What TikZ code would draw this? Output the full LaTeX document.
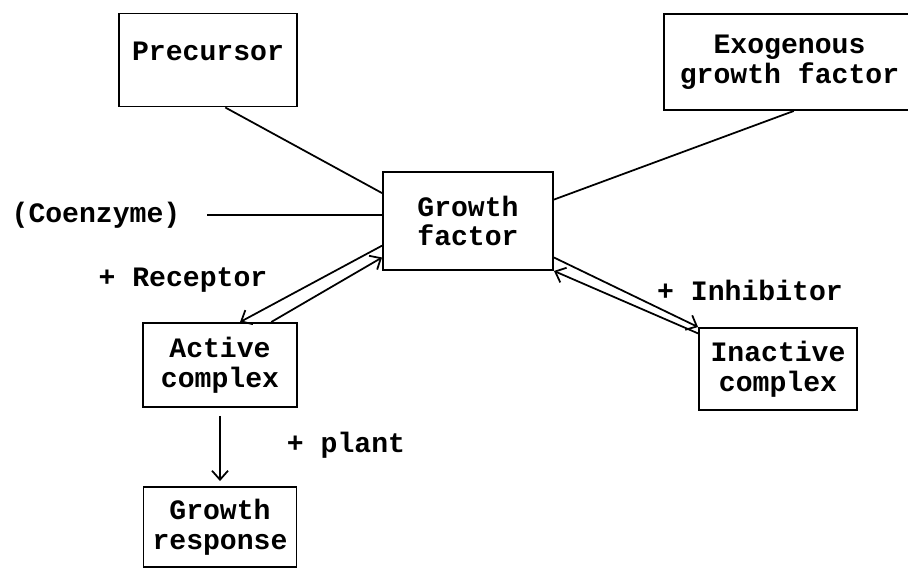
\documentclass[tikz,border=0pt]{standalone}
\usepackage{fontspec}
\setmonofont{Liberation Mono}
\usepackage{tikz}
\usetikzlibrary{arrows.meta,shapes}

\begin{document}
\begin{tikzpicture}[->,>={Straight Barb[length=1.8mm,width=3.2mm]},line width=1pt,
	box node/.style={rectangle,draw,line width=1.1pt,align=center,font=\ttfamily\bfseries\fontsize{16}{17}\selectfont},
	text node/.style={font=\ttfamily\bfseries\fontsize{16}{17}\selectfont}
]
	\useasboundingbox (0,0) rectangle (18.16,-11.4);

	\node[box node,minimum width=3.4cm,minimum height=1.96cm] (GF) at (9.36,-4.42) {Growth\\factor};

	\node[box node,above of=GF,xshift=-52mm,yshift=22.2mm,minimum width=3.56cm,minimum height=1.86cm,text height=0.4cm,text depth=0.4cm] (P) {Precursor};
	\node[box node,above of=GF,xshift=64.3mm,yshift=21.8mm,minimum width=5.02cm,minimum height=1.92cm] (E) {Exogenous\\growth factor};
	\node[text node,left of=GF,xshift=-64.4mm,yshift=1.2mm] (C) {(Coenzyme)};

	\node[text node,below of=GF,xshift=-57mm,yshift=-1.8mm] (R) {+ Receptor};
	\node[box node,below of=GF,xshift=-49.6mm,yshift=-18.8mm,minimum width=3.08cm,minimum height=1.68cm] (A) {Active\\complex};

	\node[text node,below of=GF,xshift=56.4mm,yshift=-3.8mm] (I) {+ Inhibitor};
	\node[box node,below of=GF,xshift=62mm,yshift=-19.6mm,minimum width=3.16cm,minimum height=1.64cm] (IC) {Inactive\\complex};

	\node[text node,below of=GF,xshift=-24.4mm,yshift=-34.8mm] (PL) {+ plant};
	\node[box node,below of=GF,xshift=-49.6mm,yshift=-51.2mm,minimum width=3.06cm,minimum height=1.6cm] (GR) {Growth\\response};

	\draw[-] (P.-70) -- (GF.162);
	\draw[-] (E.-85) -- (GF.14);
	\draw[-,shorten <=4mm] (C.east) -- (C.east -| GF.west);

	\draw[->] (GF.196) -- (A.65);
	\draw[->] (A.40) -- (GF.203);

	\draw[->] (GF.-23) -- (IC.north west);
	\draw[->] (IC.156) -- (GF.south east);

	\draw[->,shorten <=1.6mm,shorten >=1mm] (A.south) -- (GR.north);

\end{tikzpicture}
\end{document}
